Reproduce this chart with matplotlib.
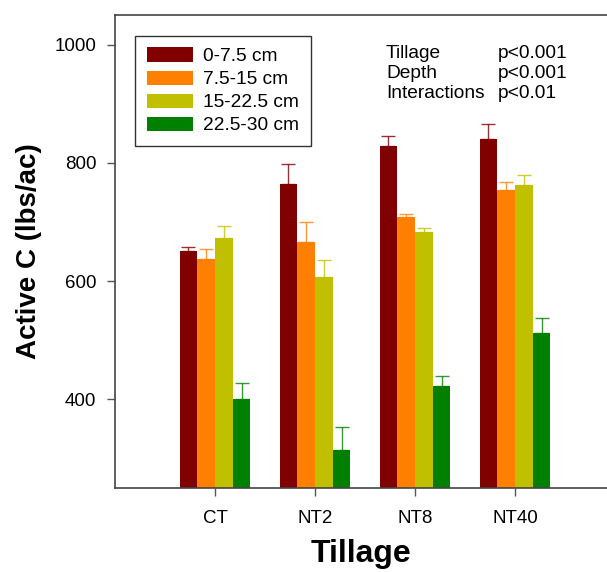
import numpy as np
from matplotlib import pyplot as plt

plt.rcParams['font.family'] = ['Liberation Sans', 'DejaVu Sans']

tillage = ['CT', 'NT2', 'NT8', 'NT40']
depths = ['0-7.5 cm', '7.5-15 cm', '15-22.5 cm', '22.5-30 cm']
colors = ['#800000', '#FF8000', '#C0C000', '#008000']

# mean active C per depth, one value per tillage
means = [
    [650, 765, 829, 840],
    [638, 666, 708, 754],
    [673, 607, 683, 762],
    [401, 315, 423, 512],
]
# upper error (SE)
errors = [
    [8, 33, 17, 26],
    [17, 34, 6, 14],
    [20, 28, 7, 18],
    [27, 38, 16, 25],
]

fig = plt.figure(figsize=(6.07, 5.72), dpi=100)
ax = fig.add_axes([115 / 607, 84 / 572, 492 / 607, 473 / 572])

x = np.arange(1, len(tillage) + 1)
width = 0.177
for i in range(len(depths)):
    pos = x + (i - 1.5) * width
    ax.bar(pos, means[i], width, color=colors[i], label=depths[i], zorder=2)
    ax.errorbar(pos, means[i], yerr=[np.zeros(len(tillage)), errors[i]],
                fmt='none', ecolor=colors[i], elinewidth=1, capsize=5.3,
                capthick=1, alpha=0.8, zorder=3)

ax.set_xlim(0, 4.92)
ax.set_ylim(250, 1050)
ax.set_yticks([400, 600, 800, 1000])
ax.set_xticks(x)
ax.set_xticklabels(tillage)
ax.tick_params(labelsize=13.5, length=5.5, width=1, color='#555555', pad=8)
ax.tick_params(axis='x', pad=10)

for side in ['left', 'top', 'bottom']:
    ax.spines[side].set_color('#444444')
    ax.spines[side].set_linewidth(1.2)
ax.spines['right'].set_visible(False)

ax.set_xlabel('Tillage', fontsize=23, fontweight='bold', labelpad=9)
ax.set_ylabel('Active C (lbs/ac)', fontsize=20, fontweight='bold', labelpad=9)

leg = ax.legend(loc='upper left', bbox_to_anchor=(20 / 492, 452 / 473),
                borderaxespad=0, fontsize=13.8, frameon=True, fancybox=False,
                edgecolor='black', handlelength=2.4, handleheight=0.75,
                handletextpad=0.55, labelspacing=0.28, borderpad=0.6)
leg.get_frame().set_linewidth(1)

stats = [('Tillage', 'p<0.001'), ('Depth', 'p<0.001'), ('Interactions', 'p<0.01')]
for k, (name, p) in enumerate(stats):
    yy = 1 - (53 + k * 20.2 - 15) / 473
    ax.text((386 - 115) / 492, yy, name, transform=ax.transAxes,
            fontsize=13.8, va='center', ha='left')
    ax.text((498 - 115) / 492, yy, p, transform=ax.transAxes,
            fontsize=13.8, va='center', ha='left')

fig.savefig('out.png', dpi=100)
